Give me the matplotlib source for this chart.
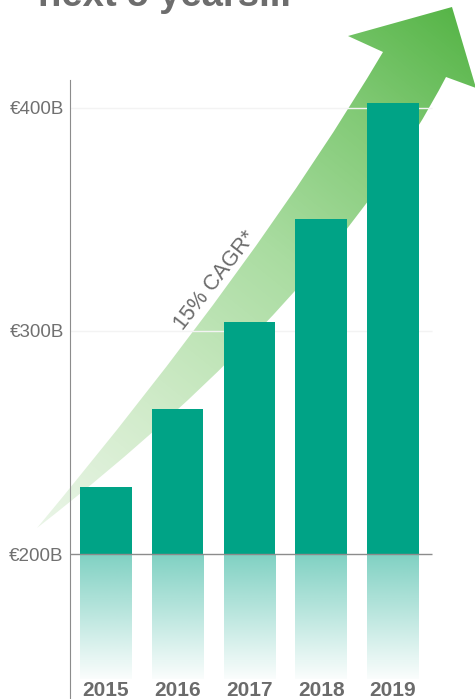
import numpy as np
import matplotlib
matplotlib.use("Agg")
import matplotlib.pyplot as plt
from matplotlib.path import Path
from matplotlib.patches import PathPatch
from matplotlib.colors import LinearSegmentedColormap, to_rgb

plt.rcParams['font.family'] = ['Liberation Sans', 'DejaVu Sans']

# Data
years = ['2015', '2016', '2017', '2018', '2019']
market = [230, 265, 304, 350, 402]   # € billions
y_ticks = [200, 300, 400]
y_tick_labels = ['€200B', '€300B', '€400B']
title_text = 'next 5 years...'
cagr_text = '15% CAGR*'

bar_color = '#00a386'
text_gray = '#6b6b6b'

W, H = 475, 699
fig = plt.figure(figsize=(W / 100, H / 100), dpi=100)

# background layer in pixel units for the decorative growth arrow
bg = fig.add_axes([0, 0, 1, 1])
bg.set_xlim(0, W)
bg.set_ylim(H, 0)
bg.axis('off')

start = (37, 528)
verts = [start,
         (330, 300), (446, 77),      # lower edge (curved)
         (476, 88), (452, 7), (348, 36), (383, 52),
         (260, 260), start,          # upper edge (curved)
         start]
codes = [Path.MOVETO, Path.CURVE3, Path.CURVE3,
         Path.LINETO, Path.LINETO, Path.LINETO, Path.LINETO,
         Path.CURVE3, Path.CURVE3, Path.CLOSEPOLY]
arrow = PathPatch(Path(verts, codes), facecolor='none', edgecolor='none')
bg.add_patch(arrow)

# gradient along the arrow direction
xs = np.arange(W) + 0.5
ys = np.arange(H) + 0.5
gx, gy = np.meshgrid(xs, ys)
d = np.array([452 - start[0], 7 - start[1]], dtype=float)
s = ((gx - start[0]) * d[0] + (gy - start[1]) * d[1]) / (d @ d)
s = np.clip(s, 0, 1)
cmap = LinearSegmentedColormap.from_list(
    'grow', [(0.0, '#eaf5e7'), (0.25, '#d0ebc9'), (0.55, '#a9dca0'),
             (0.8, '#80c974'), (1.0, '#57b548')])
img = bg.imshow(cmap(s), extent=(0, W, H, 0), origin='upper',
                interpolation='bilinear', zorder=1)
img.set_clip_path(arrow)

bg.text(215, 281, cagr_text, rotation=52, ha='center', va='center',
        rotation_mode='anchor', fontsize=15.5, color=text_gray, zorder=2)

fig.text(38 / W, 1 - 6 / H, title_text, ha='left', va='baseline',
         fontsize=27.5, fontweight='bold', color='#6d6d6d')

# main chart
ax = fig.add_axes([70 / W, 0, 1 - 70 / W, 1])
ax.set_facecolor('none')
x = np.arange(len(years))

for yv in [300, 400]:
    ax.hlines(yv, -0.5, 4.55, color='#f3f3f3', lw=1, zorder=0)

bw = 0.72
ax.bar(x, np.array(market) - 200, bottom=200, width=bw, color=bar_color, zorder=3)

# faded reflection under the baseline
base_rgb = np.array(to_rgb(bar_color))
n = 200
refl = np.zeros((n, 1, 4))
refl[..., :3] = base_rgb
refl[..., 3] = np.linspace(0.5, 0.02, n)[:, None]
for xi in x:
    ax.imshow(refl, extent=(xi - bw / 2, xi + bw / 2, 144, 200), origin='upper',
              aspect='auto', interpolation='bilinear', zorder=2)
ax.set_xlim(-0.5, 5.145)
ax.set_ylim(135, 448.4)

ax.hlines(200, -0.5, 4.55, color='#8c8c8c', lw=1, zorder=4)

for xi, yr in zip(x, years):
    ax.text(xi, 139, yr, ha='center', va='center', fontsize=15,
            fontweight='bold', color=text_gray)

ax.set_yticks(y_ticks, y_tick_labels)
ax.tick_params(axis='y', length=0, pad=4.5, labelsize=13.5, labelcolor='#707070')
ax.set_xticks([])
for side in ['top', 'right', 'bottom']:
    ax.spines[side].set_visible(False)
ax.spines['left'].set_color('#8c8c8c')
ax.spines['left'].set_bounds(135, 412.6)

fig.savefig('out.png', dpi=100)
